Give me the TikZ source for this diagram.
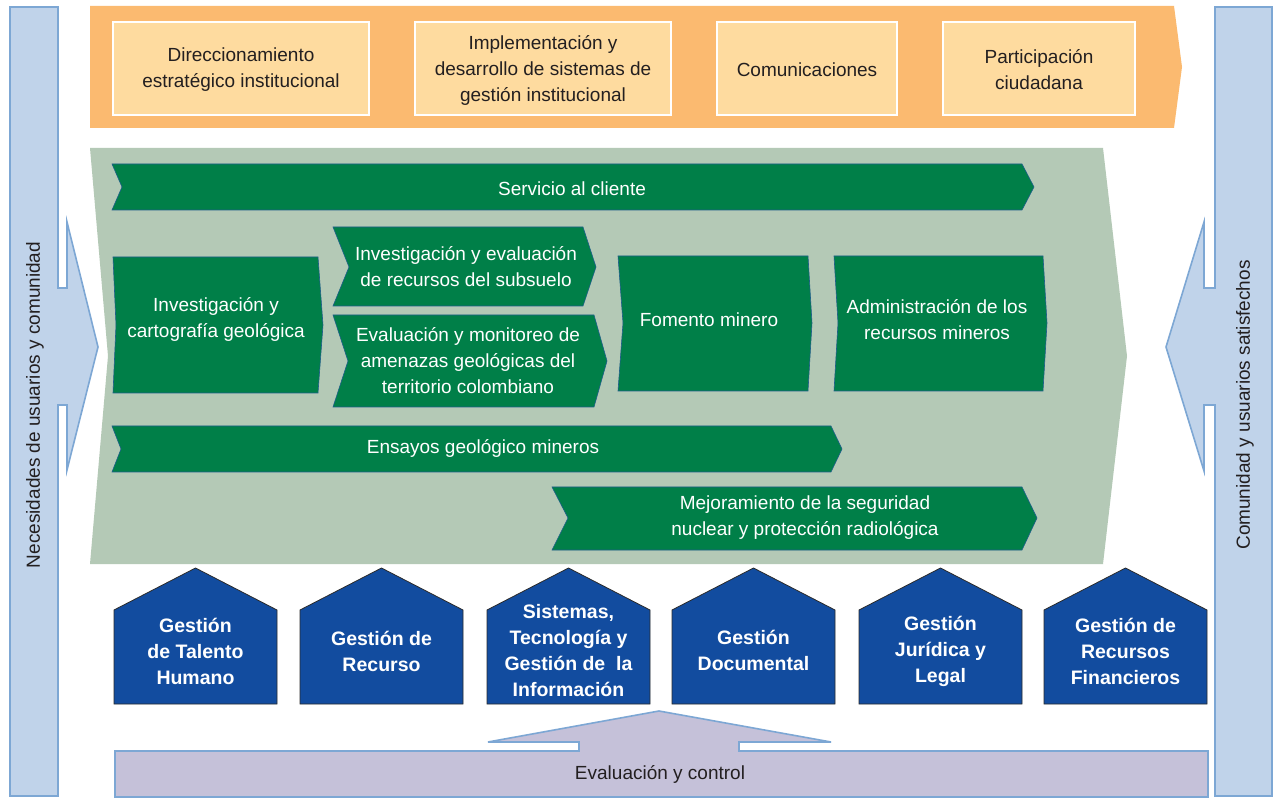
\documentclass[tikz,border=0pt]{standalone}
\usepackage{fontspec}
\setmainfont{Liberation Sans}
\definecolor{sideblue}{HTML}{C0D3EA}
\definecolor{sideline}{HTML}{7DA7D4}
\definecolor{oband}{HTML}{FBBA70}
\definecolor{oboxfill}{HTML}{FEDB9F}
\definecolor{gbg}{HTML}{B4C9B6}
\definecolor{dgreen}{HTML}{007F48}
\definecolor{chevline}{HTML}{1E5E8A}
\definecolor{hblue}{HTML}{124C9F}
\definecolor{hline}{HTML}{2B2B2B}
\definecolor{lav}{HTML}{C5C1D9}
\definecolor{txtdark}{HTML}{231F20}
\tikzset{
  sidearrow/.style={fill=sideblue, draw=sideline, line width=1.6pt, line join=miter},
  gtxt/.style={text=white, align=center, inner sep=0pt, font=\fontsize{19}{26}\selectfont},
  otxt/.style={text=txtdark, align=center, inner sep=0pt, font=\fontsize{19}{26}\selectfont},
  htxt/.style={text=white, align=center, inner sep=0pt, font=\bfseries\fontsize{19.5}{26}\selectfont},
  chev/.style={fill=dgreen, draw=chevline, line width=0.6pt},
  housebox/.style={fill=hblue, draw=hline, line width=0.8pt},
  obox/.style={fill=oboxfill, draw=white, line width=2pt}
}
\begin{document}
\begin{tikzpicture}[x=1pt,y=-1pt]
\useasboundingbox[fill=white] (0,0) rectangle (1275,799);

% left side arrow
\draw[sidearrow] (10,7) -- (58,7) -- (58,288) -- (67,288) -- (67,222) -- (98,347) -- (67,470) -- (67,405) -- (58,405) -- (58,796) -- (10,796) -- cycle;
\node[otxt, rotate=90] (needs) at (35,405) {Necesidades de usuarios y comunidad};

% right side arrow
\draw[sidearrow] (1272,7) -- (1215,7) -- (1215,288) -- (1204,288) -- (1204,222) -- (1166,347) -- (1204,471) -- (1204,405) -- (1215,405) -- (1215,796) -- (1272,796) -- cycle;
\node[otxt, rotate=90] (satisf) at (1245,405) {Comunidad y usuarios satisfechos};

% top orange band
\fill[oband] (90,6) -- (1174,6) -- (1182,67) -- (1174,128) -- (90,128) -- cycle;
\draw[obox] (113,22) rectangle (369,115);
\draw[obox] (415,22) rectangle (671,115);
\draw[obox] (717,22) rectangle (897,115);
\draw[obox] (943,22) rectangle (1135,115);
\node[otxt] (dir) at (241,70) {Direccionamiento\\estratégico institucional};
\node[otxt] (impl) at (543,70) {Implementación y\\desarrollo de sistemas de\\gestión institucional};
\node[otxt] (com) at (807,70) {Comunicaciones};
\node[otxt] (part) at (1039,70) {Participación\\ciudadana};

% green background
\fill[gbg] (90,148) -- (1103,148) -- (1127,356) -- (1103,564) -- (90,564) -- (108,356) -- cycle;

% green chevrons
\draw[chev] (112,164) -- (1022,164) -- (1034,187) -- (1022,210) -- (112,210) -- (122,187) -- cycle;
\node[gtxt] (serv) at (572,189) {Servicio al cliente};
\draw[chev] (113,257) -- (318,257) -- (323,325) -- (318,393) -- (113,393) -- (116,325) -- cycle;
\node[gtxt] (carto) at (216,319) {Investigación y\\cartografía geológica};
\draw[chev] (333,227) -- (583,227) -- (596,267) -- (583,306) -- (333,306) -- (349,267) -- cycle;
\node[gtxt] (subs) at (466,267) {Investigación y evaluación\\de recursos del subsuelo};
\draw[chev] (333,315) -- (594,315) -- (607,361) -- (594,407) -- (333,407) -- (348,361) -- cycle;
\node[gtxt] (amen) at (468,361) {Evaluación y monitoreo de\\amenazas geológicas del\\territorio colombiano};
\draw[chev] (618,256) -- (808,256) -- (812,323) -- (808,391) -- (618,391) -- (623,323) -- cycle;
\node[gtxt] (fom) at (709,320) {Fomento minero};
\draw[chev] (834,256) -- (1043,256) -- (1047,323) -- (1043,391) -- (834,391) -- (838,323) -- cycle;
\node[gtxt] (adm) at (937,320) {Administración de los\\recursos mineros};
\draw[chev] (112,426) -- (831,426) -- (842,449) -- (831,472) -- (112,472) -- (121,449) -- cycle;
\node[gtxt] (ens) at (483,448) {Ensayos geológico mineros};
\draw[chev] (552,487) -- (1022,487) -- (1037,518) -- (1022,550) -- (552,550) -- (568,518) -- cycle;
\node[gtxt] (mej) at (805,518) {Mejoramiento de la seguridad\\nuclear y protección radiológica};

% houses
\foreach \l in {114,300,487,672,859,1044}{
  \draw[housebox] (\l,704) -- (\l,610) -- ({\l+81.5},568) -- ({\l+163},610) -- ({\l+163},704) -- cycle;
}
\node[htxt] (h1) at (195.5,651) {Gestión\\de Talento\\Humano};
\node[htxt] (h2) at (381.5,651) {Gestión de\\Recurso};
\node[htxt] (h3) at (568.5,651) {Sistemas,\\Tecnología y\\Gestión de\ \ la\\Información};
\node[htxt] (h4) at (753.5,650) {Gestión\\Documental};
\node[htxt] (h5) at (940.5,651) {Gestión\\Jurídica y\\Legal};
\node[htxt] (h6) at (1125.5,651) {Gestión de\\Recursos\\Financieros};

% bottom arrow
\draw[fill=lav, draw=sideline, line width=1.6pt, line join=miter] (115,797) -- (115,751) -- (579,751) -- (579,742) -- (488,742) -- (659,711) -- (831,742) -- (739,742) -- (739,751) -- (1208,751) -- (1208,797) -- cycle;
\node[otxt] (eval) at (660,774) {Evaluación y control};
\end{tikzpicture}
\end{document}
